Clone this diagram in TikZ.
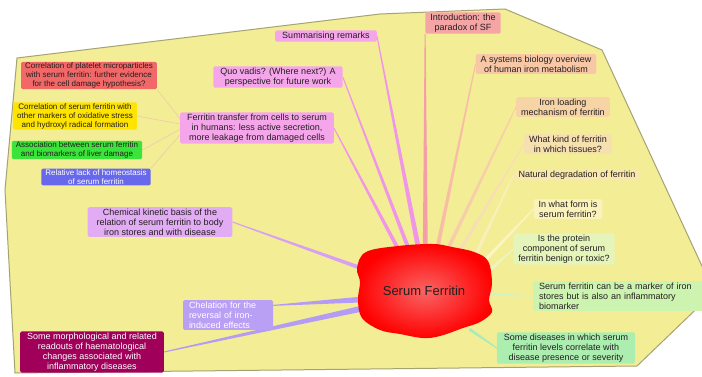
\documentclass[tikz,border=0pt]{standalone}
\usepackage{fontspec}
\setmainfont{Liberation Sans}
\usepackage{tikz}
\usetikzlibrary{calc,shapes,positioning}
\definecolor{mapbg}{RGB}{243,237,150}
\definecolor{mapedge}{RGB}{165,162,115}
\definecolor{txt}{RGB}{35,30,30}
\definecolor{blobin}{RGB}{250,100,100}
\definecolor{cred}{RGB}{242,104,104}
\definecolor{cyel}{RGB}{255,228,0}
\definecolor{cgrn}{RGB}{58,228,58}
\definecolor{cblu}{RGB}{104,104,236}
\definecolor{cpink}{RGB}{245,166,234}
\definecolor{cintro}{RGB}{245,165,165}
\definecolor{csys}{RGB}{248,200,166}
\definecolor{cload}{RGB}{247,212,166}
\definecolor{ckind}{RGB}{247,224,176}
\definecolor{cdeg}{RGB}{248,232,172}
\definecolor{cform}{RGB}{250,242,186}
\definecolor{cprot}{RGB}{228,244,186}
\definecolor{cmark}{RGB}{205,243,176}
\definecolor{cdis}{RGB}{172,238,176}
\definecolor{cchem}{RGB}{226,172,245}
\definecolor{cchel}{RGB}{186,160,245}
\definecolor{cmorph}{RGB}{160,0,90}
\definecolor{lpink}{RGB}{240,150,230}
\definecolor{lintro}{RGB}{245,158,168}
\definecolor{lsys}{RGB}{248,190,165}
\definecolor{lload}{RGB}{248,205,170}
\definecolor{lkind}{RGB}{248,222,180}
\definecolor{ldeg}{RGB}{250,238,186}
\definecolor{lform}{RGB}{251,245,196}
\definecolor{lprot}{RGB}{232,246,200}
\definecolor{lmark}{RGB}{205,245,200}
\definecolor{ldis}{RGB}{165,235,190}
\definecolor{lchem}{RGB}{215,160,242}
\definecolor{lchel}{RGB}{180,155,245}
\definecolor{lsub}{RGB}{240,205,170}
\pgfdeclarelayer{bg}
\pgfdeclarelayer{links}
\pgfdeclarelayer{blob}
\pgfsetlayers{bg,links,blob,main}
\newcommand{\taper}[4]{\fill[#3] ($(#1)!0.5pt!90:(#2)$) -- ($(#2)!#4!-90:(#1)$) -- ($(#2)!#4!90:(#1)$) -- ($(#1)!0.5pt!-90:(#2)$) -- cycle;}

\begin{document}
\begin{tikzpicture}[x=1pt,y=-1pt]
    \tikzstyle{every node}+=[inner sep=0pt]
    \tikzstyle{topic}=[rectangle, rounded corners=1.5pt, inner xsep=7pt, inner ysep=1.5pt, align=center, text=txt, font=\fontsize{9}{10}\selectfont]
    \tikzstyle{subtopic}=[topic, inner xsep=4pt, inner ysep=1pt, font=\fontsize{8}{9}\selectfont]
    \tikzstyle{sublink}=[line width=0.7pt, lsub]
    \useasboundingbox (0,0) rectangle (702,377);
    \begin{pgfonlayer}{bg}
        \fill[white] (0,0) rectangle (702,377);
        \draw[mapedge, fill=mapbg, line width=1pt] (17,58) -- (380,14) -- (505,9) -- (602,50) -- (714,292) -- (637,366) -- (15,373) -- (5,190) -- cycle;
    \end{pgfonlayer}
    \node (sf) at (424,291) [minimum width=118pt, minimum height=76pt, text=txt, font=\fontsize{13}{15}\selectfont] {Serum Ferritin};
    \begin{pgfonlayer}{blob}
        \shade[inner color=blobin, outer color=red] plot[smooth cycle, tension=0.6] coordinates {(366,252) (398,246) (433,244) (452,247) (474,252) (488,261) (492,283) (489,300) (492,312) (480,322) (463,328) (440,336) (423,338) (400,334) (380,330) (362,318) (358,300) (360,282) (357,268)};
    \end{pgfonlayer}
    \node (n1) at (89,75.5) [subtopic, fill=cred] {Correlation of platelet microparticles\\with serum ferritin: further evidence\\for the cell damage hypothesis?};
    \node (n2) at (75,116) [subtopic, fill=cyel] {Correlation of serum ferritin with\\other markers of oxidative stress\\and hydroxyl radical formation};
    \node (n3) at (77,150) [subtopic, fill=cgrn] {Association between serum ferritin\\and biomarkers of liver damage};
    \node (n4) at (96,177) [subtopic, fill=cblu, text=white] {Relative lack of homeostasis\\of serum ferritin};
    \node (n5) at (257,128) [topic, fill=cpink] {Ferritin transfer from cells to serum\\in humans: less active secretion,\\more leakage from damaged cells};
    \node (n6) at (278,77) [topic, fill=cpink] {Quo vadis? (Where next?) A\\perspective for future work};
    \node (n7) at (326,36) [topic, fill=cpink] {Summarising remarks};
    \node (n8) at (463,23) [topic, fill=cintro, inner xsep=5pt] {Introduction: the\\paradox of SF};
    \node (n9) at (536,64) [topic, fill=csys, inner xsep=5pt] {A systems biology overview\\of human iron metabolism};
    \node (n10) at (563,107) [topic, fill=cload, inner xsep=5pt] {Iron loading\\mechanism of ferritin};
    \node (n11) at (568,144) [topic, fill=ckind, inner xsep=5pt] {What kind of ferritin\\in which tissues?};
    \node (n12) at (577,175) [topic, fill=cdeg, inner xsep=5pt] {Natural degradation of ferritin};
    \node (n13) at (568,209) [topic, fill=cform, inner xsep=5pt] {In what form is\\serum ferritin?};
    \node (n14) at (564,249) [topic, fill=cprot, inner xsep=5pt] {Is the protein\\component of serum\\ferritin benign or toxic?};
    \node (n15) at (533,296) [topic, fill=cmark, anchor=west, align=left, text width=160pt, inner xsep=6pt] {Serum ferritin can be a marker of iron\\stores but is also an inflammatory\\biomarker};
    \node (n16) at (566,348) [topic, fill=cdis] {Some diseases in which serum\\ferritin levels correlate with\\disease presence or severity};
    \node (n17) at (160,222) [topic, fill=cchem, inner xsep=9pt] {Chemical kinetic basis of the\\relation of serum ferritin to body\\iron stores and with disease};
    \node (n18) at (228,315) [topic, fill=cchel, text=white, align=left, text width=78pt, inner xsep=6pt] {Chelation for the\\reversal of iron-\\induced effects};
    \node (n19) at (92,352) [topic, fill=cmorph, text=white] {Some morphological and related\\readouts of haematological\\changes associated with\\inflammatory diseases};
    \begin{pgfonlayer}{links}
        \draw[sublink] (n1.south east) -- (n5.173);
        \draw[sublink] (n2.east) -- (n5.177);
        \draw[sublink] (n3.east) -- (n5.181);
        \draw[sublink] (n4.north east) -- (n5.185);
        \taper{n5.east}{sf.122}{lpink}{2pt}
        \taper{n6.east}{sf.110}{lpink}{2pt}
        \taper{n7.east}{sf.97}{lpink}{2.5pt}
        \taper{n8.south west}{sf.88}{lintro}{2.5pt}
        \taper{n9.west}{sf.72}{lsys}{2pt}
        \taper{n10.west}{sf.60}{lload}{2pt}
        \taper{n11.west}{sf.48}{lkind}{1.8pt}
        \taper{n12.west}{sf.36}{ldeg}{1.8pt}
        \taper{n13.west}{sf.26}{lform}{1.8pt}
        \taper{n14.west}{sf.14}{lprot}{1.8pt}
        \taper{n15.west}{sf.-3}{lmark}{1.5pt}
        \taper{n16.west}{sf.-40}{ldis}{1.5pt}
        \taper{n17.east}{sf.160}{lchem}{2pt}
        \taper{n18.12}{sf.-172}{lchel}{3pt}
        \taper{n19.east}{sf.-164}{lchel}{3pt}
    \end{pgfonlayer}
\end{tikzpicture}
\end{document}
